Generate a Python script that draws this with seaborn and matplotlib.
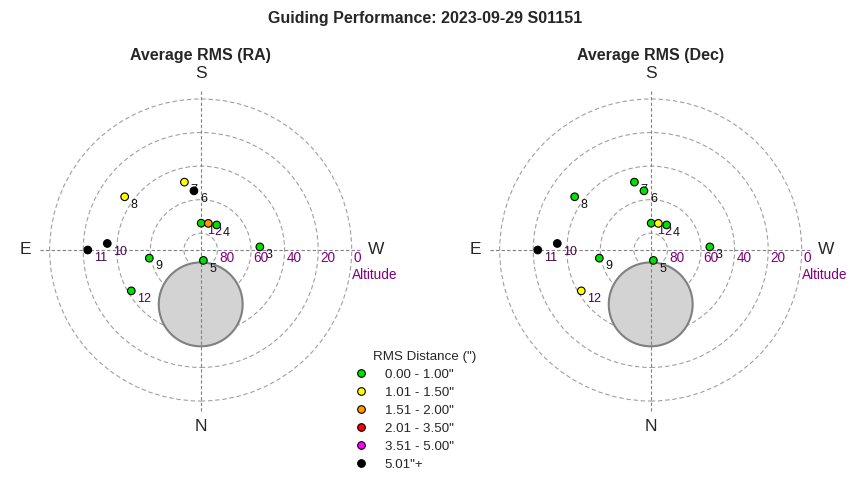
import numpy as np
import pandas as pd
import matplotlib
matplotlib.use("Agg")
import matplotlib.pyplot as plt
from matplotlib.lines import Line2D
from matplotlib.patches import Circle
import seaborn as sns

# Données (heure, altitude, azimut)
hours = [1, 2, 3, 4, 5, 6, 7, 8, 9, 10, 11, 12]
altitude = [74, 73.5, 54.7, 72.3, 83.6, 54.5, 48.4, 34.7, 59, 34.2, 22.7, 42]
azimuth = [181, 196, 267, 212.5, 345.5, 173.5, 166.5, 125, 81, 94, 90, 59.5]

# Classe RMS de chaque point (index dans class_labels)
rms_ra_class = [0, 2, 0, 0, 0, 5, 1, 1, 0, 5, 5, 0]
rms_dec_class = [0, 1, 0, 0, 0, 0, 0, 0, 0, 5, 5, 1]

class_labels = ['0.00 - 1.00"', '1.01 - 1.50"', '1.51 - 2.00"',
                '2.01 - 3.50"', '3.51 - 5.00"', '5.01"+']
class_colors = ['#00e000', '#ffff00', '#ff9900', '#ff0000', '#ff00ff', '#000000']

alt_rings = [80, 60, 40, 20, 0]
purple_hours = [1, 2, 10, 11, 12]

# zone grisée (altitude / azimut du centre, rayon en degrés)
blocked_alt = 57.6
blocked_az = 0
blocked_radius = 25


def to_xy(alt, az):
    r = 90 - np.asarray(alt, dtype=float)
    a = np.radians(np.asarray(az, dtype=float))
    return -r * np.sin(a), -r * np.cos(a)


sns.set_style("white")
plt.rcParams['font.family'] = ['Liberation Sans', 'DejaVu Sans']

x, y = to_xy(altitude, azimuth)
df = pd.DataFrame({'hour': hours, 'x': x, 'y': y,
                   'ra': [class_labels[c] for c in rms_ra_class],
                   'dec': [class_labels[c] for c in rms_dec_class]})
palette = dict(zip(class_labels, class_colors))

fig = plt.figure(figsize=(8.5, 4.8), dpi=100)
fig.text(0.5, 1 - 18 / 480, "Guiding Performance: 2023-09-29 S01151",
         ha='center', va='center', fontsize=11.5, fontweight='bold')

lim = 110
for cx, col, title in [(200.7, 'ra', 'Average RMS (RA)'),
                       (650.7, 'dec', 'Average RMS (Dec)')]:
    half = lim * 1.678
    ax = fig.add_axes([(cx - half) / 850, (230 - half) / 480,
                       2 * half / 850, 2 * half / 480])
    ax.set_xlim(-lim, lim)
    ax.set_ylim(-lim, lim)
    ax.set_aspect('equal')
    ax.axis('off')

    # cercles d'altitude
    for alt in alt_rings:
        ax.add_patch(Circle((0, 0), 90 - alt, fill=False, ec='#a0a0a0',
                            lw=0.8, ls=(0, (4, 2.5)), zorder=1))
        ax.text(90 - alt + 1.2, -4.6, str(alt), color='#800080',
                fontsize=9.8, ha='left', va='center', zorder=2)
    ax.text(90.3, -14.9, "Altitude", color='#800080', fontsize=9.8,
            ha='left', va='center')

    # zone grisée
    bx, by = to_xy(blocked_alt, blocked_az)
    ax.add_patch(Circle((bx, by), blocked_radius, fc='#d3d3d3', ec='#808080',
                        lw=1.5, zorder=2))

    # axes N-S / E-W
    ax.plot([-96, 96], [0, 0], color='#808080', lw=0.8, ls=(0, (3, 2)), zorder=3)
    ax.plot([0, 0], [-96, 96], color='#808080', lw=0.8, ls=(0, (3, 2)), zorder=3)
    ax.text(0, 105, "S", ha='center', va='center', fontsize=12.5)
    ax.text(0, -105, "N", ha='center', va='center', fontsize=12.5)
    ax.text(-104.6, 0, "E", ha='center', va='center', fontsize=12.5)
    ax.text(104.6, 0, "W", ha='center', va='center', fontsize=12.5)
    ax.text(0, 116, title, ha='center', va='center', fontsize=11.5,
            fontweight='bold', clip_on=False)

    # étiquettes des heures
    for _, row in df.iterrows():
        c = '#4b004b' if row['hour'] in purple_hours else '#111111'
        ax.annotate(str(row['hour']), (row['x'], row['y']), xytext=(4.3, -1.6),
                    textcoords='offset points', ha='left', va='top',
                    fontsize=9, color=c, zorder=4)

    sns.scatterplot(data=df, x='x', y='y', hue=col, palette=palette,
                    hue_order=class_labels, s=30, edgecolor='black',
                    linewidth=0.8, legend=False, ax=ax, zorder=5)
    ax.axis('off')

# légende
fig.text(373 / 850, 1 - 357 / 480, 'RMS Distance (")', ha='left', va='center',
         fontsize=9.6)
handles = [Line2D([], [], marker='o', ls='', markersize=5.5, markerfacecolor=c,
                  markeredgecolor='black', markeredgewidth=0.8)
           for c in class_colors]
fig.legend(handles, class_labels, loc='upper left',
           bbox_to_anchor=(342 / 850, 1 - 358 / 480), frameon=False,
           fontsize=9.6, handletextpad=1.2, labelspacing=0.42,
           handlelength=1.2, borderpad=0.3)

fig.savefig("out.png", dpi=100)
